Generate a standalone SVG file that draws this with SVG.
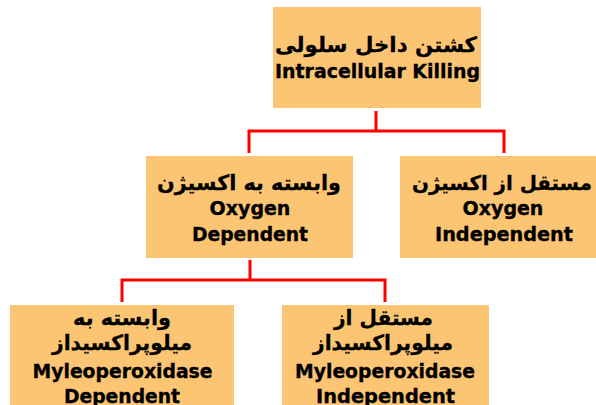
<svg xmlns="http://www.w3.org/2000/svg" width="596" height="405" viewBox="0 0 596 405">
<style>
.box{fill:#FCC573;}
.t{font-family:"DejaVu Sans","Noto Sans",sans-serif;font-weight:bold;font-size:19px;fill:#000;stroke:#000;stroke-width:0.35;text-anchor:middle;}
.fa{font-family:"DejaVu Sans","Noto Sans",sans-serif;font-weight:bold;font-size:21px;fill:#000;stroke:#000;stroke-width:0.3;text-anchor:middle;}
.c{fill:none;stroke:#FF0000;stroke-width:3;stroke-linejoin:miter;}
</style>
<rect width="596" height="405" fill="#FFFFFF"/>
<g id="connectors">
<path class="c" d="M376,111 V131 M249,153 V131 H504 V153"/>
<path class="c" d="M250,260 V280 M122,302 V280 H385 V302"/>
</g>
<g id="root">
<rect class="box" x="273" y="7" width="208" height="101"/>
<text class="fa" x="376" y="52" direction="rtl" textLength="202" lengthAdjust="spacingAndGlyphs">کشتن داخل سلولی</text>
<text class="t" x="377.5" y="78" textLength="205" lengthAdjust="spacingAndGlyphs">Intracellular Killing</text>
</g>
<g id="oxygen-dependent">
<rect class="box" x="146" y="156" width="207" height="102"/>
<text class="fa" x="249" y="190" direction="rtl" textLength="184" lengthAdjust="spacingAndGlyphs">وابسته به اکسیژن</text>
<text class="t" x="250" y="215">Oxygen</text>
<text class="t" x="250" y="241" textLength="116" lengthAdjust="spacingAndGlyphs">Dependent</text>
</g>
<g id="oxygen-independent">
<rect class="box" x="400" y="156" width="207" height="102"/>
<text class="fa" x="502" y="190" direction="rtl" style="font-size:20px" textLength="180" lengthAdjust="spacingAndGlyphs">مستقل از اکسیژن</text>
<text class="t" x="503" y="215">Oxygen</text>
<text class="t" x="504" y="241" textLength="138" lengthAdjust="spacingAndGlyphs">Independent</text>
</g>
<g id="mpo-dependent">
<rect class="box" x="10" y="305" width="224" height="110"/>
<text class="fa" x="122" y="325" direction="rtl" textLength="98" lengthAdjust="spacingAndGlyphs">وابسته به</text>
<text class="fa" x="122" y="350" direction="rtl" textLength="140" lengthAdjust="spacingAndGlyphs">میلوپراکسیداز</text>
<text class="t" x="122.5" y="378" textLength="180" lengthAdjust="spacingAndGlyphs">Myleoperoxidase</text>
<text class="t" x="122" y="403" textLength="116" lengthAdjust="spacingAndGlyphs">Dependent</text>
</g>
<g id="mpo-independent">
<rect class="box" x="282" y="305" width="207" height="110"/>
<text class="fa" x="383.5" y="325" direction="rtl" textLength="99" lengthAdjust="spacingAndGlyphs">مستقل از</text>
<text class="fa" x="383" y="350" direction="rtl" textLength="140" lengthAdjust="spacingAndGlyphs">میلوپراکسیداز</text>
<text class="t" x="385" y="378" textLength="180" lengthAdjust="spacingAndGlyphs">Myleoperoxidase</text>
<text class="t" x="385.5" y="403" textLength="139" lengthAdjust="spacingAndGlyphs">Independent</text>
</g>
</svg>
